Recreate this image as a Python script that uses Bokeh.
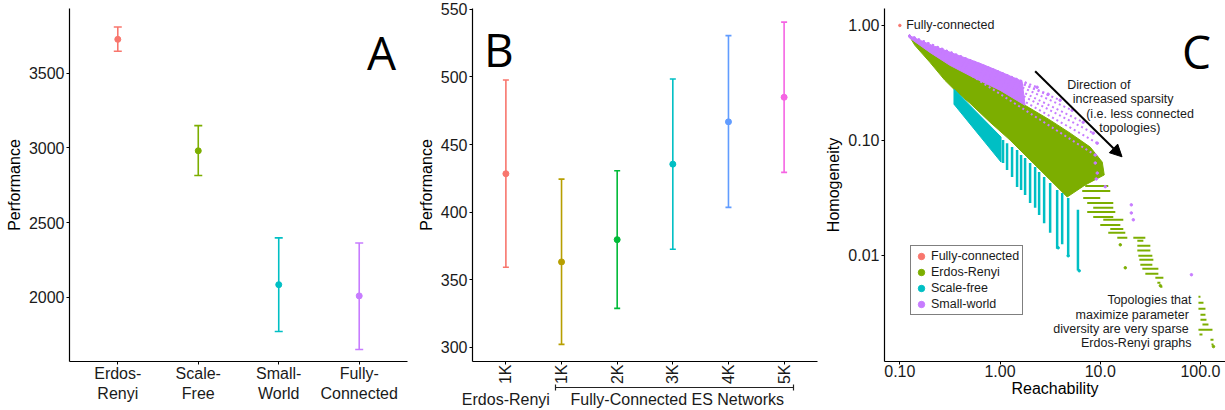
from math import pi
from bokeh.plotting import figure
from bokeh.layouts import row
from bokeh.models import (FixedTicker, Label, Arrow, NormalHead, Legend, LegendItem,
                          Range1d, ColumnDataSource, LinearAxis)
from bokeh.embed import file_html
from bokeh.resources import INLINE

# ---------------- data: panel A ----------------
a_categories = ["Erdos-Renyi", "Scale-Free", "Small-World", "Fully-Connected"]
a_labels = ["Erdos-\nRenyi", "Scale-\nFree", "Small-\nWorld", "Fully-\nConnected"]
a_mean = [3725, 2980, 2085, 2010]
a_upper = [3808, 3148, 2398, 2364]
a_lower = [3645, 2815, 1772, 1652]
a_colors = ["#F8766D", "#7CAE00", "#00BFC4", "#C77CFF"]
a_yticks = [2000, 2500, 3000, 3500]

# ---------------- data: panel B ----------------
b_groups = ["Erdos-Renyi", "Fully-Connected ES Networks"]
b_sizes = ["1K", "1K", "2K", "3K", "4K", "5K"]
b_mean = [428.4, 363.1, 379.6, 435.5, 466.8, 485.0]
b_upper = [497.8, 424.4, 430.6, 498.5, 530.6, 540.6]
b_lower = [359.2, 302.1, 328.7, 372.5, 403.5, 429.4]
b_colors = ["#F8766D", "#B79F00", "#00BA38", "#00BFC4", "#619CFF", "#F564E3"]
b_yticks = [300, 350, 400, 450, 500, 550]

# ---------------- data: panel C (reachability, homogeneity) ----------------
c_xticks = [0.1, 1, 10, 100]
c_xlabels = ["0.10", "1.00", "10.0", "100.0"]
c_yticks = [0.01, 0.1, 1]
c_ylabels = ["0.01", "0.10", "1.00"]

fully_x = [0.1]
fully_y = [1.0]

er_poly_x = [0.123, 0.1995, 0.3162, 0.5623, 1.0, 1.778, 3.162, 5.012, 7.943, 10.47, 10.96,
             7.079, 4.677, 3.548, 2.138, 1.259, 0.7943, 0.5012, 0.3715, 0.2818, 0.1995, 0.1413]
er_poly_y = [0.819, 0.583, 0.450, 0.347, 0.273, 0.202, 0.150, 0.1157, 0.0875, 0.0648, 0.0501,
             0.0410, 0.0322, 0.0410, 0.0636, 0.1006, 0.144, 0.2106, 0.2624, 0.333, 0.478, 0.671]
er_row_y = [0.0402, 0.0363, 0.0316, 0.0286, 0.0259, 0.0239, 0.0216, 0.0204, 0.0184, 0.0170,
            0.0157, 0.0142, 0.0142, 0.0134, 0.0121, 0.0110, 0.00992, 0.00916, 0.00829,
            0.00765, 0.00693, 0.00639, 0.00579, 0.00534, 0.00437, 0.00388, 0.00344,
            0.00305, 0.00276, 0.00250, 0.00226, 0.00205, 0.00185, 0.00168]
er_row_x0 = [7.079, 6.607, 6.761, 7.413, 8.511, 7.413, 8.511, 10.72, 10.0, 12.59,
             12.02, 14.79, 21.38, 23.44, 23.44, 23.44, 23.99, 24.55, 25.12,
             26.30, 28.18, 35.48, 37.15, 39.81, 95.5, 95.5, 95.5,
             100.0, 100.0, 104.7, 95.5, 97.7, 125.9, 128.8]
er_row_x1 = [12.02, 12.59, 10.0, 13.49, 13.49, 14.13, 13.49, 16.98, 15.85, 16.98,
             17.78, 18.62, 28.18, 26.92, 31.62, 31.62, 33.11, 33.88, 33.11,
             38.02, 38.02, 42.66, 39.81, 41.69, 100.0, 107.2, 112.2,
             112.2, 114.8, 120.2, 131.8, 104.7, 134.9, 134.9]
er_dots_x = [15.85, 17.78, 39.81, 134.9]
er_dots_y = [0.01236, 0.0078, 0.00545, 0.00161]

sf_poly_x = [0.347, 1.023, 1.023, 0.347]
sf_poly_y = [0.279, 0.107, 0.0648, 0.2065]
sf_col_x = [1.072, 1.175, 1.318, 1.479, 1.622, 1.778, 1.995, 2.239, 2.455, 2.754,
            3.162, 3.715, 4.169, 4.786, 5.99]
sf_col_top = [0.1006, 0.0947, 0.0875, 0.0824, 0.0746, 0.0702, 0.0636, 0.0587, 0.0531, 0.0480,
              0.0426, 0.0371, 0.0349, 0.0316, 0.0249]
sf_col_bot = [0.0636, 0.0553, 0.0480, 0.0394, 0.0371, 0.0335, 0.0286, 0.0259, 0.0225, 0.0190,
              0.0157, 0.0114, 0.0125, 0.0098, 0.0074]
sf_dots_x = [3.802, 4.786, 6.166]
sf_dots_y = [0.01164, 0.00992, 0.00735]

sw_poly_x = [0.123, 0.1995, 0.3388, 0.631, 0.933, 1.349, 1.660,
             1.778, 1.0, 0.5623, 0.3162, 0.1995, 0.123]
sw_poly_y = [0.819, 0.684, 0.572, 0.468, 0.407, 0.354, 0.327,
             0.202, 0.273, 0.347, 0.450, 0.583, 0.787]
sw_ray_x = [1.862, 2.344, 3.020, 3.981, 5.248, 6.761, 8.511, 9.333, 9.550]
sw_ray_y = [0.314, 0.290, 0.252, 0.2236, 0.183, 0.144, 0.1157, 0.0947, 0.0716]
sw_dots_x = [2.344, 3.020, 3.981, 5.248, 6.761, 8.511, 9.333, 8.913, 8.913, 9.333, 9.12,
             11.22, 20.42, 20.42, 21.38, 81.3]
sw_dots_y = [0.290, 0.252, 0.2236, 0.183, 0.144, 0.1157, 0.0947, 0.0746, 0.0636, 0.0520, 0.0462,
             0.0396, 0.0275, 0.0234, 0.0204, 0.00679]

FONT = "Liberation Sans"
BIG = "Open Sans"
TXT = "#1a1a1a"
RED, GREEN, CYAN, PURPLE = "#F8766D", "#7CAE00", "#00BFC4", "#C77CFF"
BORDER_TOP, BORDER_BOTTOM = 8, 48


def style(p):
    for ax in (p.xaxis[0], p.yaxis[0]):
        ax.axis_line_color = "black"
        ax.axis_line_width = 1.2
        ax.major_tick_line_color = "black"
        ax.major_tick_in = 0
        ax.major_tick_out = 3
        ax.minor_tick_line_color = None
        ax.major_label_text_font = FONT
        ax.major_label_text_font_size = "16px"
        ax.major_label_text_color = TXT
        ax.major_label_text_line_height = 1.0
        ax.major_label_standoff = 2
        ax.axis_label_text_font = FONT
        ax.axis_label_text_font_size = "16px"
        ax.axis_label_text_font_style = "normal"
        ax.axis_label_text_color = "black"
        ax.axis_label_text_line_height = 1.0
        ax.axis_label_standoff = 3
    p.xgrid.visible = False
    p.ygrid.visible = False
    p.outline_line_color = None
    p.background_fill_color = "white"
    p.border_fill_color = "white"


def label_axis(ticks, labels, standoff=0):
    return LinearAxis(ticker=FixedTicker(ticks=ticks),
                      major_label_overrides={t: l for t, l in zip(ticks, labels)},
                      axis_line_color=None, major_tick_line_color=None,
                      major_tick_in=0, major_tick_out=0, minor_tick_line_color=None,
                      major_label_standoff=standoff,
                      major_label_text_font=FONT, major_label_text_font_size="16px",
                      major_label_text_line_height=1.0, major_label_text_color=TXT)


def big_letter(p, text, x, y):
    p.add_layout(Label(x=x, y=y, x_units="screen", y_units="screen", text=text,
                       text_font=BIG, text_font_size="46px", text_color="black",
                       text_align="center", text_baseline="alphabetic"))


# ---------------- Panel A ----------------
a_x = list(range(1, len(a_categories) + 1))
srcA = ColumnDataSource(dict(x=a_x, mean=a_mean, up=a_upper, lo=a_lower, color=a_colors))
pA = figure(width=410, height=410, x_range=Range1d(0.4, 4.6), y_range=Range1d(1571.3, 3931.3),
            output_backend="svg", toolbar_location=None,
            min_border_left=69, min_border_right=3,
            min_border_top=BORDER_TOP, min_border_bottom=BORDER_BOTTOM)
style(pA)
pA.segment(x0="x", y0="lo", x1="x", y1="up", line_color="color", line_width=1.6, source=srcA)
pA.scatter("x", "up", marker="dash", size=8, line_color="color", line_width=1.6, source=srcA)
pA.scatter("x", "lo", marker="dash", size=8, line_color="color", line_width=1.6, source=srcA)
pA.scatter("x", "mean", marker="circle", size=6, fill_color="color", line_color="color", source=srcA)
pA.xaxis.ticker = FixedTicker(ticks=a_x)
# the two lines of each category label: first line on the axis, second on a label-only axis
a_line1 = [lab.split("\n")[0] for lab in a_labels]
a_line2 = [lab.split("\n")[1] for lab in a_labels]
pA.xaxis.major_label_overrides = {x: lab for x, lab in zip(a_x, a_line1)}
pA.xaxis.major_label_standoff = 0
pA.add_layout(label_axis(a_x, a_line2), "below")
pA.yaxis.ticker = FixedTicker(ticks=a_yticks)
pA.yaxis.axis_label = "Performance"
big_letter(pA, "A", 312, 310)

# ---------------- Panel B ----------------
b_x = list(range(1, len(b_sizes) + 1))
srcB = ColumnDataSource(dict(x=b_x, mean=b_mean, up=b_upper, lo=b_lower, color=b_colors))
pB = figure(width=410, height=410, x_range=Range1d(0.4, 6.6), y_range=Range1d(289.4, 550.7),
            output_backend="svg", toolbar_location=None,
            min_border_left=62, min_border_right=3,
            min_border_top=BORDER_TOP, min_border_bottom=BORDER_BOTTOM)
style(pB)
pB.segment(x0="x", y0="lo", x1="x", y1="up", line_color="color", line_width=1.6, source=srcB)
pB.scatter("x", "up", marker="dash", size=6, line_color="color", line_width=1.6, source=srcB)
pB.scatter("x", "lo", marker="dash", size=6, line_color="color", line_width=1.6, source=srcB)
pB.scatter("x", "mean", marker="circle", size=6, fill_color="color", line_color="color", source=srcB)
pB.xaxis.ticker = FixedTicker(ticks=b_x)
pB.xaxis.major_label_overrides = {x: lab for x, lab in zip(b_x, b_sizes)}
pB.xaxis.major_label_orientation = pi / 2
pB.xaxis.major_label_standoff = 0
pB.yaxis.ticker = FixedTicker(ticks=b_yticks)
pB.yaxis.axis_label = "Performance"
big_letter(pB, "B", 26.3, 312.7)

# bracket under the fully-connected group (an extra bounded axis)
bracket = LinearAxis(ticker=FixedTicker(ticks=[], minor_ticks=[1.886, 6.166]),
                     bounds=(1.884, 6.168),
                     axis_line_color="#222222", axis_line_width=1.2,
                     major_tick_line_color=None, major_tick_in=0, major_tick_out=0,
                     major_label_text_font_size="0px",
                     minor_tick_in=3, minor_tick_out=3,
                     minor_tick_line_color="#222222", minor_tick_line_width=1.2,
                     major_label_standoff=0)
pB.add_layout(bracket, "below")
# group labels (another label-only axis)
group_pos = [b_x[0], 4.08]
pB.add_layout(label_axis(group_pos, b_groups, standoff=0), "below")

# ---------------- Panel C ----------------
pC = figure(width=405, height=410, x_axis_type="log", y_axis_type="log",
            x_range=Range1d(0.0703, 177.8), y_range=Range1d(0.001194, 1.404),
            output_backend="svg", toolbar_location=None,
            min_border_left=64, min_border_right=0,
            min_border_top=BORDER_TOP, min_border_bottom=BORDER_BOTTOM)
style(pC)
# Erdos-Renyi
pC.patch(er_poly_x, er_poly_y, fill_color=GREEN, line_color=GREEN, line_width=1)
pC.segment(x0=er_row_x0, y0=er_row_y, x1=er_row_x1, y1=er_row_y, line_color=GREEN, line_width=2)
r_er = pC.scatter(er_dots_x, er_dots_y, marker="circle", size=2.5, fill_color=GREEN, line_color=GREEN)
# Scale-free
pC.patch(sf_poly_x, sf_poly_y, fill_color=CYAN, line_color=CYAN, line_width=1)
pC.segment(x0=sf_col_x, y0=sf_col_bot, x1=sf_col_x, y1=sf_col_top, line_color=CYAN, line_width=2.5)
r_sf = pC.scatter(sf_dots_x, sf_dots_y, marker="circle", size=2.5, fill_color=CYAN, line_color=CYAN)
# Small-world
pC.patch(sw_poly_x, sw_poly_y, fill_color=PURPLE, line_color=PURPLE, line_width=1)
pC.segment(x0=[sw_poly_x[0]] * len(sw_ray_x), y0=[sw_poly_y[0]] * len(sw_ray_y),
           x1=sw_ray_x, y1=sw_ray_y, line_color=PURPLE, line_width=2, line_dash="2 3")
r_sw = pC.scatter(sw_dots_x, sw_dots_y, marker="circle", size=2.5, fill_color=PURPLE, line_color=PURPLE)
# Fully-connected
r_fc = pC.scatter(fully_x, fully_y, marker="circle", size=2.5, fill_color=RED, line_color=RED)

pC.xaxis.ticker = FixedTicker(ticks=c_xticks)
pC.xaxis.major_label_overrides = {t: l for t, l in zip(c_xticks, c_xlabels)}
pC.yaxis.ticker = FixedTicker(ticks=c_yticks)
pC.yaxis.major_label_overrides = {t: l for t, l in zip(c_yticks, c_ylabels)}
pC.xaxis.axis_label = "Reachability"
pC.yaxis.axis_label = "Homogeneity"
pC.xaxis.axis_label_standoff = 0
pC.xaxis.major_label_standoff = 0
big_letter(pC, "C", 312, 310.5)

pC.add_layout(Arrow(x_start=2.24, y_start=0.399, x_end=16.5, y_end=0.072, line_width=2,
                    line_color="black",
                    end=NormalHead(size=12, fill_color="black", line_color="black")))

c_notes = [("Fully-connected", 21.7, 337, "left"),
           ("Direction of", 182.7, 277, "left"),
           ("increased sparsity", 188.3, 263, "left"),
           ("(i.e. less connected", 201.7, 248, "left"),
           ("topologies)", 214.7, 234, "left"),
           ("Topologies that", 307, 62, "right"),
           ("maximize parameter", 304.3, 47, "right"),
           ("diversity are very sparse", 304.3, 32.7, "right"),
           ("Erdos-Renyi graphs", 307, 18.7, "right")]
for txt, x, y, al in c_notes:
    pC.add_layout(Label(x=x, y=y, x_units="screen", y_units="screen", text=txt,
                        text_font=FONT, text_font_size="12.5px", text_color=TXT,
                        text_align=al, text_baseline="middle"))

legend = Legend(items=[LegendItem(label="Fully-connected", renderers=[r_fc]),
                       LegendItem(label="Erdos-Renyi", renderers=[r_er]),
                       LegendItem(label="Scale-free", renderers=[r_sf]),
                       LegendItem(label="Small-world", renderers=[r_sw])],
                location=(26, 46), margin=0, padding=2, spacing=0,
                glyph_width=16, glyph_height=16, label_height=15, label_standoff=2,
                label_text_font=FONT, label_text_font_size="12.5px", label_text_color=TXT,
                label_width=89,
                border_line_color="black", border_line_width=1.3,
                background_fill_color="white", background_fill_alpha=1)
pC.add_layout(legend)

layout = row(pA, pB, pC, spacing=0)
open("out.html", "w").write(file_html(layout, INLINE))
